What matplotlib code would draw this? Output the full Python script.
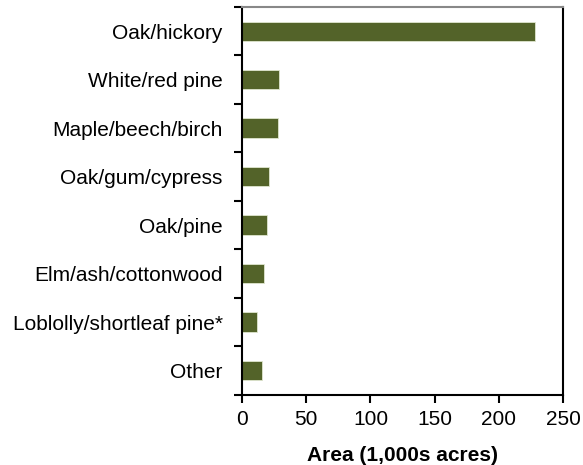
import matplotlib.pyplot as plt

categories = ["Oak/hickory", "White/red pine", "Maple/beech/birch", "Oak/gum/cypress",
              "Oak/pine", "Elm/ash/cottonwood", "Loblolly/shortleaf pine*", "Other"]
area = [228, 29, 28, 21, 19.5, 17, 12, 15.5]

plt.rcParams["font.family"] = ["Liberation Sans", "DejaVu Sans"]

fig = plt.figure(figsize=(5.83, 4.65), dpi=100)
ax = fig.add_axes([0.415, 0.151, 0.551, 0.834])

ypos = list(range(len(categories)))
ax.barh(ypos, area, height=0.4, color="#536329", edgecolor="#dfe6cf", linewidth=0.6)
ax.set_ylim(len(categories) - 0.5, -0.5)
ax.set_xlim(0, 250)
ax.set_xticks([0, 50, 100, 150, 200, 250])
ax.set_yticks(ypos)
ax.set_yticklabels(categories)
ax.set_yticks([i - 0.5 for i in range(len(categories) + 1)], minor=True)
ax.tick_params(axis="y", which="major", length=0, pad=14, labelsize=15)
ax.tick_params(axis="y", which="minor", length=6, width=1.5, direction="out")
ax.tick_params(axis="x", length=6, width=1.5, labelsize=15, pad=5)
ax.set_xlabel("Area (1,000s acres)", fontsize=15, fontweight="bold", labelpad=12)

for s in ["left", "bottom", "right"]:
    ax.spines[s].set_linewidth(1.5)
    ax.spines[s].set_color("black")
ax.spines["top"].set_color("#888888")
ax.spines["top"].set_linewidth(1.5)

fig.savefig("out.png", dpi=100, facecolor="white")
